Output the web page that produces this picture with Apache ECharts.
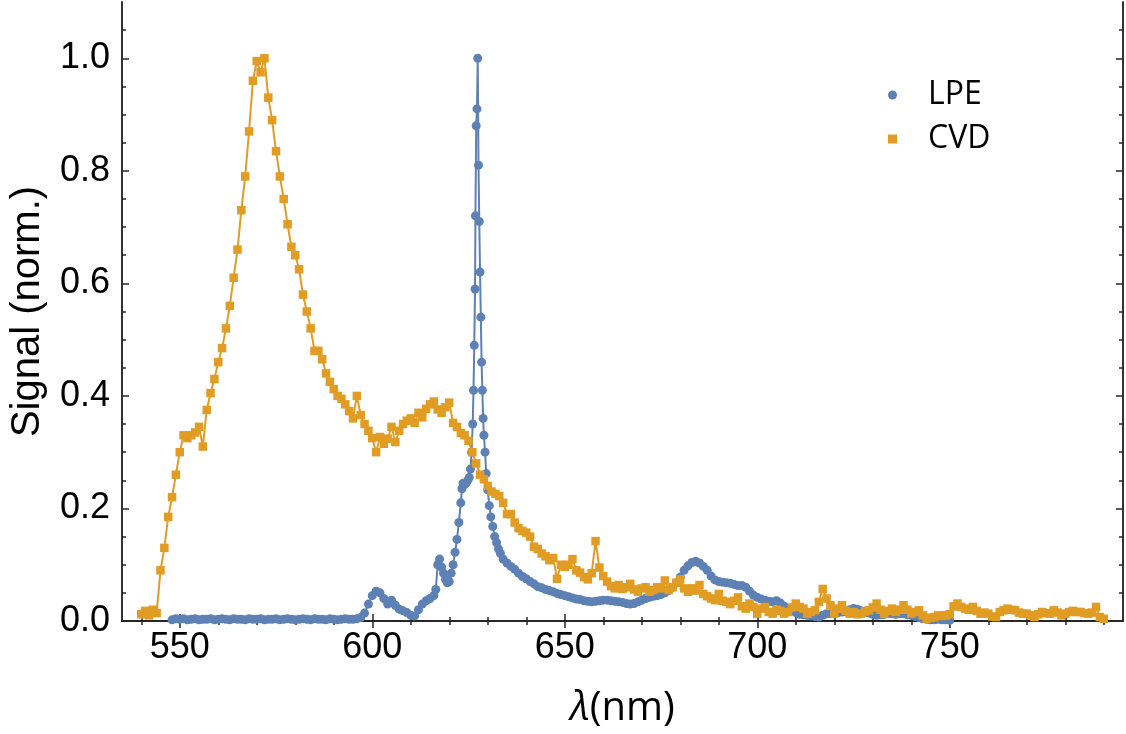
<!DOCTYPE html>
<html>
<head>
<meta charset="utf-8">
<script src="https://cdn.jsdelivr.net/npm/echarts@6/dist/echarts.min.js"></script>
<style>
html, body { margin: 0; padding: 0; background: #fff; }
#main { width: 1126px; height: 734px; }
</style>
</head>
<body>
<div id="main"></div>
<script>
// tick positions
var xMajor = [550, 600, 650, 700, 750];
var xMinor = [540, 560, 570, 580, 590, 610, 620, 630, 640, 660, 670, 680, 690, 710, 720, 730, 740, 760, 770, 780, 790];
var yMajor = [0, 0.2, 0.4, 0.6, 0.8, 1.0];
var yMinor = [0.05, 0.1, 0.15, 0.25, 0.3, 0.35, 0.45, 0.5, 0.55, 0.65, 0.7, 0.75, 0.85, 0.9, 0.95, 1.05];

// LPE spectrum (nm, normalised signal)
var lpeWavelength = [
  548, 549, 550, 551, 552, 553, 554, 555, 556, 557, 558, 559, 560, 561, 562, 563, 564, 565, 566, 567,
  568, 569, 570, 571, 572, 573, 574, 575, 576, 577, 578, 579, 580, 581, 582, 583, 584, 585, 586, 587,
  588, 589, 590, 591, 592, 593, 594, 595, 596, 597, 598, 599, 600, 601, 602, 603, 604, 605, 606, 607,
  608, 609, 610, 611, 612, 613, 614, 615, 616, 616.5, 617, 617.5, 618, 618.5, 619, 619.5, 620, 620.5, 621, 621.5,
  622, 622.5, 623, 623.3, 623.6, 624, 624.4, 624.8, 625.2, 625.5, 625.8, 626.1, 626.3, 626.5, 626.7, 626.8, 627, 627.2, 627.4, 627.6,
  627.8, 628, 628.2, 628.4, 628.6, 628.8, 629, 629.3, 629.6, 630, 630.4, 630.8, 631.3, 631.8, 632.3, 632.8, 633.3, 634, 635, 636,
  637, 638, 639, 640, 641, 642, 643, 644, 645, 646, 647, 648, 649, 650, 651, 652, 653, 654, 655, 656,
  657, 658, 659, 660, 661, 662, 663, 664, 665, 666, 667, 668, 669, 670, 671, 672, 673, 674, 675, 676,
  677, 678, 679, 680, 681, 682, 683, 684, 685, 686, 687, 688, 689, 690, 691, 692, 693, 694, 695, 696,
  697, 698, 699, 700, 701, 702, 703, 704, 705, 706, 707, 708, 709, 710, 711, 712, 713, 714, 715, 716,
  717, 718, 719, 720, 721, 722, 723, 724, 725, 726, 727, 728, 729, 730, 731, 732, 733, 734, 735, 736,
  737, 738, 739, 740, 741, 742, 743, 744, 745, 746, 747, 748, 749, 750
];
var lpeSignal = [
  0.002, 0.004, 0.003, 0.004, 0.002, 0.003, 0.004, 0.002, 0.003, 0.003, 0.004, 0.002, 0.003, 0.004, 0.003, 0.002, 0.004, 0.003, 0.003, 0.002,
  0.004, 0.003, 0.003, 0.004, 0.002, 0.003, 0.003, 0.004, 0.002, 0.003, 0.004, 0.003, 0.002, 0.003, 0.004, 0.003, 0.002, 0.004, 0.003, 0.003,
  0.002, 0.004, 0.003, 0.002, 0.003, 0.004, 0.003, 0.003, 0.004, 0.006, 0.014, 0.03, 0.045, 0.053, 0.05, 0.04, 0.03, 0.037, 0.028, 0.021,
  0.018, 0.015, 0.01, 0.009, 0.02, 0.03, 0.036, 0.04, 0.045, 0.056, 0.1, 0.11, 0.096, 0.085, 0.074, 0.068, 0.07, 0.085, 0.1, 0.122,
  0.145, 0.175, 0.21, 0.235, 0.245, 0.243, 0.245, 0.25, 0.255, 0.27, 0.3, 0.35, 0.41, 0.49, 0.59, 0.72, 0.88, 0.91, 1.0, 0.81,
  0.71, 0.62, 0.54, 0.46, 0.41, 0.36, 0.33, 0.3, 0.262, 0.233, 0.205, 0.185, 0.168, 0.15, 0.139, 0.128, 0.12, 0.11, 0.103, 0.097,
  0.092, 0.085, 0.079, 0.075, 0.07, 0.066, 0.061, 0.059, 0.056, 0.054, 0.052, 0.049, 0.047, 0.045, 0.043, 0.041, 0.039, 0.038, 0.036, 0.035,
  0.034, 0.035, 0.036, 0.037, 0.037, 0.036, 0.035, 0.034, 0.033, 0.031, 0.03, 0.031, 0.034, 0.037, 0.04, 0.042, 0.044, 0.045, 0.047, 0.05,
  0.054, 0.06, 0.068, 0.078, 0.09, 0.098, 0.104, 0.106, 0.103, 0.097, 0.09, 0.08, 0.073, 0.07, 0.069, 0.068, 0.067, 0.065, 0.063, 0.063,
  0.06, 0.053, 0.046, 0.042, 0.039, 0.037, 0.035, 0.034, 0.036, 0.032, 0.026, 0.022, 0.019, 0.015, 0.012, 0.011, 0.01, 0.009, 0.008, 0.007,
  0.01, 0.013, 0.013, 0.014, 0.015, 0.016, 0.017, 0.02, 0.022, 0.021, 0.018, 0.016, 0.014, 0.012, 0.01, 0.011, 0.012, 0.013, 0.013, 0.012,
  0.013, 0.013, 0.011, 0.01, 0.008, 0.006, 0.004, 0.003, 0.002, 0.002, 0.003, 0.002, 0.002, 0.001
];

// CVD spectrum, one point per nm starting at 540 nm
var cvdStart = 540;
var cvdSignal = [
  0.012, 0.018, 0.010, 0.020, 0.014, 0.09, 0.13, 0.185, 0.22, 0.26,
  0.30, 0.33, 0.325, 0.33, 0.335, 0.345, 0.31, 0.375, 0.405, 0.43,
  0.46, 0.485, 0.52, 0.56, 0.61, 0.66, 0.73, 0.79, 0.87, 0.96,
  0.995, 0.975, 1.0, 0.93, 0.89, 0.835, 0.79, 0.75, 0.705, 0.665,
  0.65, 0.625, 0.58, 0.55, 0.52, 0.48, 0.48, 0.465, 0.44, 0.425,
  0.412, 0.40, 0.395, 0.385, 0.373, 0.36, 0.40, 0.366, 0.35, 0.338,
  0.325, 0.30, 0.327, 0.315, 0.324, 0.345, 0.318, 0.338, 0.35, 0.356,
  0.36, 0.352, 0.37, 0.362, 0.377, 0.385, 0.39, 0.376, 0.37, 0.38,
  0.388, 0.352, 0.345, 0.334, 0.33, 0.32, 0.30, 0.28, 0.26, 0.252,
  0.24, 0.23, 0.226, 0.222, 0.21, 0.19, 0.19, 0.175, 0.165, 0.16,
  0.157, 0.15, 0.132, 0.128, 0.12, 0.115, 0.108, 0.112, 0.075, 0.10,
  0.096, 0.1, 0.11, 0.09, 0.086, 0.078, 0.074, 0.085, 0.142, 0.095,
  0.08, 0.07, 0.062, 0.058, 0.064, 0.057, 0.06, 0.066, 0.056, 0.052,
  0.058, 0.06, 0.052, 0.055, 0.06, 0.058, 0.072, 0.055, 0.06, 0.068,
  0.074, 0.058, 0.052, 0.058, 0.054, 0.064, 0.048, 0.044, 0.04, 0.037,
  0.048, 0.036, 0.034, 0.03, 0.036, 0.042, 0.026, 0.022, 0.031, 0.025,
  0.013, 0.022, 0.025, 0.016, 0.013, 0.02, 0.018, 0.013, 0.016, 0.024,
  0.031, 0.025, 0.022, 0.013, 0.016, 0.019, 0.034, 0.057, 0.04, 0.028,
  0.013, 0.022, 0.028, 0.018, 0.013, 0.016, 0.012, 0.013, 0.017, 0.019,
  0.024, 0.031, 0.02, 0.013, 0.018, 0.022, 0.016, 0.02, 0.028, 0.02,
  0.013, 0.016, 0.019, 0.01, 0.004, 0.006, 0.007, 0.01, 0.009, 0.01,
  0.012, 0.026, 0.031, 0.025, 0.022, 0.02, 0.025, 0.018, 0.013, 0.015,
  0.013, 0.008, 0.007, 0.016, 0.019, 0.022, 0.02, 0.019, 0.015, 0.013,
  0.013, 0.01, 0.007, 0.012, 0.016, 0.014, 0.013, 0.019, 0.015, 0.01,
  0.013, 0.016, 0.018, 0.016, 0.016, 0.014, 0.013, 0.015, 0.025, 0.007,
  0.004
];

var blue = '#5e81b5';
var orange = '#e19c24';
var frameColor = '#262626';

var lpeData = lpeWavelength.map(function (x, i) { return [x, lpeSignal[i]]; });
var cvdData = cvdSignal.map(function (v, i) { return [cvdStart + i, v]; });

function xFrame(position, ticks, len, withLabels) {
    return {
        type: 'value', position: position, min: 535, max: 795,
        axisLine: {show: true, lineStyle: {color: frameColor, width: 1.5}},
        axisTick: {show: true, inside: true, length: len, customValues: ticks,
            lineStyle: {color: frameColor, width: 1.5}},
        axisLabel: withLabels ? {show: true, customValues: xMajor, margin: 9,
            fontFamily: 'Liberation Sans', fontSize: 36, color: '#000'} : {show: false},
        splitLine: {show: false}
    };
}
function yFrame(position, ticks, len, withLabels) {
    return {
        type: 'value', position: position, min: 0, max: 1.1,
        axisLine: {show: true, lineStyle: {color: frameColor, width: 1.5}},
        axisTick: {show: true, inside: true, length: len, customValues: ticks,
            lineStyle: {color: frameColor, width: 1.5}},
        axisLabel: withLabels ? {show: true, customValues: yMajor, margin: 12,
            fontFamily: 'Liberation Sans', fontSize: 36, color: '#000',
            formatter: function (v) { return v.toFixed(1); }} : {show: false},
        splitLine: {show: false}
    };
}

var xMain = xFrame('bottom', xMajor, 7, true);
xMain.name = '{i|λ}(nm)';
xMain.nameLocation = 'middle';
xMain.nameGap = 68;
xMain.nameTextStyle = {fontFamily: 'Open Sans', fontSize: 40, color: '#000',
    rich: {i: {fontFamily: 'Open Sans', fontStyle: 'italic', fontSize: 40, color: '#000'}}};

var yMain = yFrame('left', yMajor, 7, true);
yMain.name = 'Signal (norm.)';
yMain.nameLocation = 'middle';
yMain.nameRotate = 90;
yMain.nameGap = 74;
yMain.nameTextStyle = {fontFamily: 'Liberation Sans', fontSize: 40, color: '#000'};

var chart = echarts.init(document.getElementById('main'), null, {renderer: 'canvas'});
chart.setOption({
    animation: false,
    backgroundColor: '#fff',
    grid: {left: 122, right: 3, top: 2, bottom: 112, containLabel: false},
    xAxis: [xMain, xFrame('bottom', xMinor, 4, false), xFrame('top', xMajor, 7, false), xFrame('top', xMinor, 4, false)],
    yAxis: [yMain, yFrame('left', yMinor, 4, false), yFrame('right', yMajor, 7, false), yFrame('right', yMinor, 4, false)],
    legend: {
        orient: 'vertical', left: 883, top: 74,
        itemWidth: 9, itemHeight: 9, itemGap: 12,
        textStyle: {fontFamily: 'Open Sans', fontSize: 32, color: '#000', padding: [0, 0, 0, 26]},
        data: [{name: 'LPE', icon: 'circle'}, {name: 'CVD', icon: 'rect'}]
    },
    series: [
        {
            name: 'LPE', type: 'line', data: lpeData,
            symbol: 'circle', symbolSize: 9, showSymbol: true,
            itemStyle: {color: blue}, lineStyle: {color: blue, width: 2}
        },
        {
            name: 'CVD', type: 'line', data: cvdData,
            symbol: 'rect', symbolSize: 8.5, showSymbol: true,
            itemStyle: {color: orange}, lineStyle: {color: orange, width: 2}
        }
    ]
});
</script>
</body>
</html>
